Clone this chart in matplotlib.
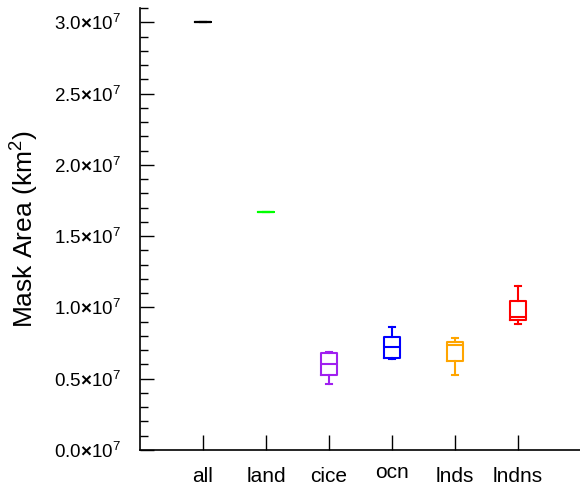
import matplotlib
matplotlib.use("Agg")
import matplotlib.pyplot as plt
import matplotlib.transforms as mtransforms
from matplotlib.ticker import MultipleLocator, FuncFormatter

plt.rcParams["font.family"] = ["Liberation Sans", "DejaVu Sans"]
plt.rcParams["mathtext.fontset"] = "custom"
plt.rcParams["mathtext.rm"] = "Liberation Sans"
plt.rcParams["mathtext.it"] = "Liberation Sans:italic"
plt.rcParams["mathtext.bf"] = "Liberation Sans:bold"

# mask areas (km^2) per region
labels = ["all", "land", "cice", "ocn", "lnds", "lndns"]
colors = ["black", "#00FF00", "#A020F0", "#0000FF", "#FFA500", "#FF0000"]
whislo = [3.0e7, 1.672e7, 0.464e7, 0.637e7, 0.525e7, 0.885e7]
q1 = [3.0e7, 1.672e7, 0.527e7, 0.644e7, 0.625e7, 0.914e7]
med = [3.0e7, 1.672e7, 0.604e7, 0.722e7, 0.736e7, 0.930e7]
q3 = [3.0e7, 1.672e7, 0.680e7, 0.796e7, 0.757e7, 1.047e7]
whishi = [3.0e7, 1.672e7, 0.684e7, 0.860e7, 0.787e7, 1.148e7]

fig = plt.figure(figsize=(5.8, 4.87), dpi=100)
ax = fig.add_axes([140 / 580, 37 / 487, 441 / 580, 442 / 487])

for i in range(len(labels)):
    st = [dict(whislo=whislo[i], q1=q1[i], med=med[i], q3=q3[i],
               whishi=whishi[i], fliers=[])]
    c = colors[i]
    ax.bxp(st, positions=[i + 1], widths=0.24, capwidths=0.08,
           showfliers=False, manage_ticks=False,
           boxprops=dict(color=c, lw=1.5),
           medianprops=dict(color=c, lw=1.5),
           whiskerprops=dict(color=c, lw=1.5),
           capprops=dict(color=c, lw=1.5))

ax.set_xlim(0, 7)
ax.set_ylim(0, 3.1e7)
ax.set_xticks(range(1, len(labels) + 1))
ax.set_xticklabels(labels, fontsize=15)

ax.yaxis.set_major_locator(MultipleLocator(0.5e7))
ax.yaxis.set_minor_locator(MultipleLocator(0.1e7))
ax.yaxis.set_major_formatter(FuncFormatter(
    lambda v, p: r"$\mathregular{%.1f\mathbf{\times}10^{7}}$" % (v / 1e7)))
ax.tick_params(axis="y", labelsize=13.5, direction="in", length=10, width=1,
               pad=14)
ax.tick_params(axis="y", which="minor", direction="in", length=5.5, width=1)
ax.tick_params(axis="x", direction="in", length=10.5, width=1, pad=12)

for s in ["top", "right"]:
    ax.spines[s].set_visible(False)
for s in ["left", "bottom"]:
    ax.spines[s].set_linewidth(1.2)

# nudge "ocn" up a little
off = mtransforms.ScaledTranslation(0, 3 / 72, fig.dpi_scale_trans)
ax.get_xticklabels()[3].set_transform(ax.get_xticklabels()[3].get_transform() + off)

ax.set_ylabel(r"Mask Area (km$^2$)", fontsize=19)
ax.yaxis.set_label_coords(-0.224, 0.5)

fig.savefig("out.png", dpi=100)
